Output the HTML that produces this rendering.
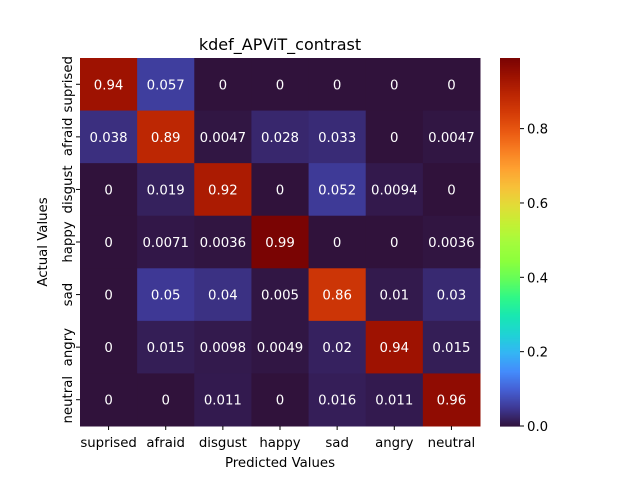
<!DOCTYPE html>
<html><head><meta charset="utf-8"><style>
body{margin:0;background:#fff;}
svg text{font-family:"DejaVu Sans","Liberation Sans",sans-serif;}
</style></head><body>
<svg id="chart" width="640" height="480" xmlns="http://www.w3.org/2000/svg">
<text x="280" y="50" font-size="16" text-anchor="middle">kdef_APViT_contrast</text>
<text x="280" y="467" font-size="13.3" text-anchor="middle">Predicted Values</text>
<text x="0" y="0" font-size="13.3" text-anchor="middle" transform="translate(47,242) rotate(-90)">Actual Values</text>
<g id="cells"></g><g id="cbar"></g><g id="axes"></g>
</svg>
<script>
const classes=["suprised","afraid","disgust","happy","sad","angry","neutral"];
const row0=[0.94,0.057,0,0,0,0,0];
const row1=[0.038,0.89,0.0047,0.028,0.033,0,0.0047];
const row2=[0,0.019,0.92,0,0.052,0.0094,0];
const row3=[0,0.0071,0.0036,0.99,0,0,0.0036];
const row4=[0,0.05,0.04,0.005,0.86,0.01,0.03];
const row5=[0,0.015,0.0098,0.0049,0.02,0.94,0.015];
const row6=[0,0,0.011,0,0.016,0.011,0.96];
const matrix=[row0,row1,row2,row3,row4,row5,row6];
const cbTicks=[0,0.2,0.4,0.6,0.8];
const vmin=0,vmax=0.99;
const L=80,T=58,W=400,H=368;
const cw=W/7,ch=H/7;
const NS="http://www.w3.org/2000/svg";
const LUT=[[48,18,59],[62,56,148],[69,96,212],[68,140,252],[52,181,244],[31,211,213],[24,231,178],[47,248,135],[99,253,90],[140,255,60],[164,252,60],[195,241,52],[225,220,55],[247,193,57],[254,162,49],[248,126,34],[234,90,18],[213,61,8],[189,39,3],[158,18,1],[122,4,3]];
function turbo(x){x=Math.max(0,Math.min(1,x))*(LUT.length-1);
const i=Math.min(LUT.length-2,Math.floor(x)),f=x-i;
const c=LUT[i].map((v,k)=>Math.round(v+(LUT[i+1][k]-v)*f));
return `rgb(${c[0]},${c[1]},${c[2]})`;}
function el(t,a,p){const e=document.createElementNS(NS,t);for(const k in a)e.setAttribute(k,a[k]);p.appendChild(e);return e;}
const xs=i=>L+i*cw, ys=j=>T+j*ch;
const cells=document.getElementById('cells');
matrix.forEach((row,j)=>row.forEach((v,i)=>{
 const r=el('rect',{x:xs(i),y:ys(j),width:cw+0.5,height:ch+0.5,fill:turbo((v-vmin)/(vmax-vmin))},cells);
 
 
 const t=el('text',{x:xs(i)+cw/2,y:ys(j)+ch/2+5,'font-size':13.3,'text-anchor':'middle',fill:'#fff'},cells);
 t.textContent=String(v);
 
 
}));
const axes=document.getElementById('axes');
classes.forEach((c,i)=>{
 el('line',{x1:xs(i)+cw/2,x2:xs(i)+cw/2,y1:T+H,y2:T+H+4,stroke:'#000'},axes);
 const t=el('text',{x:xs(i)+cw/2,y:T+H+21,'font-size':13.3,'text-anchor':'middle'},axes);
 t.textContent=c;
 
 
 const cy=ys(i)+ch/2;
 el('line',{x1:L-4,x2:L,y1:cy,y2:cy,stroke:'#000'},axes);
 const u=el('text',{x:0,y:0,'font-size':13.3,'text-anchor':'middle',transform:`translate(${L-8},${cy}) rotate(-90)`},axes);
 u.textContent=c;
 
 
});
const cb=document.getElementById('cbar');
const CX=500,CW=20,N=184;
for(let k=0;k<N;k++){
 const y0=T+H-(k+1)*H/N;
 el('rect',{x:CX,y:y0,width:CW,height:H/N+0.6,fill:turbo((k+0.5)/N)},cb);
}
const cbY=v=>T+H-(v-vmin)/(vmax-vmin)*H;
cbTicks.forEach(v=>{
 el('line',{x1:CX+CW,x2:CX+CW+4,y1:cbY(v),y2:cbY(v),stroke:'#000'},cb);
 const t=el('text',{x:CX+CW+7,y:cbY(v)+5,'font-size':13.3},cb);
 t.textContent=v.toFixed(1);
 
 
});
</script>
</body></html>
